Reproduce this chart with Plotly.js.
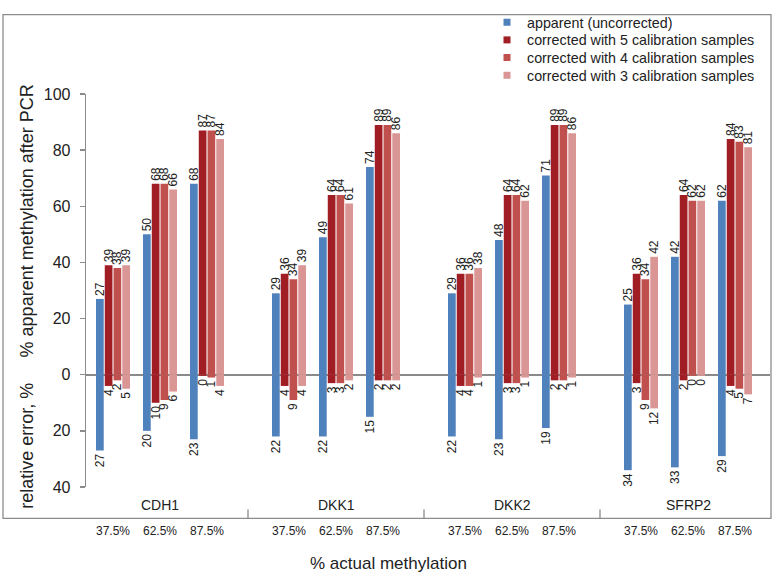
<!DOCTYPE html>
<html>
<head>
<meta charset="utf-8">
<script src="https://cdn.plot.ly/plotly-3.0.1.min.js"></script>
<style>html,body{margin:0;padding:0;background:#fff;}#chart{width:777px;height:577px;}</style>
</head>
<body>
<div id="chart"></div>
<script>
// ---- data ----
var genes = ['CDH1', 'DKK1', 'DKK2', 'SFRP2'];
var levels = ['37.5%', '62.5%', '87.5%'];
var seriesNames = ['apparent (uncorrected)', 'corrected with 5 calibration samples',
                   'corrected with 4 calibration samples', 'corrected with 3 calibration samples'];
// % apparent methylation after PCR (gene-major, level-minor)
var apparent = [27, 50, 68, 29, 49, 74, 29, 48, 71, 25, 42, 62];
var corr5    = [39, 68, 87, 36, 64, 89, 36, 64, 89, 36, 64, 84];
var corr4    = [38, 68, 87, 34, 64, 89, 36, 64, 89, 34, 62, 83];
var corr3    = [39, 66, 84, 39, 61, 86, 38, 62, 86, 42, 62, 81];
// relative error, % (drawn downward)
var errApparent = [27, 20, 23, 22, 22, 15, 22, 23, 19, 34, 33, 29];
var errCorr5    = [4, 10, 0.4, 4, 3, 2, 4, 3, 2, 3, 2, 4];
var errCorr4    = [2, 9, 1, 9, 3, 2, 4, 3, 2, 9, 0.4, 5];
var errCorr3    = [5, 6, 4, 4, 2, 2, 1, 1, 1, 12, 0.4, 7];
var yTickVals = [-40, -20, 0, 20, 40, 60, 80, 100];
var yTickText = ['40', '20', '0', '20', '40', '60', '80', '100'];

// ---- styling ----
var colors = ['#4F81BD', '#A01D24', '#C0504D', '#D99694'];
var FONT = 'Liberation Sans, Arial, sans-serif';
var GROUP = 176 / 47; // spacing between gene groups, in level units

var xPos = [];
var xLevelLabels = [];
genes.forEach(function (g, gi) {
  levels.forEach(function (l, li) { xPos.push(gi * GROUP + li); xLevelLabels.push(l); });
});

var posSeries = [apparent, corr5, corr4, corr3];
var negSeries = [errApparent, errCorr5, errCorr4, errCorr3];
var traces = [];
for (var s = 0; s < 4; s++) {
  traces.push({
    type: 'bar', x: xPos, y: posSeries[s], name: seriesNames[s],
    offsetgroup: String(s), showlegend: false,
    marker: {color: colors[s], line: {width: 0}},
    text: posSeries[s].map(function (v) { return String(Math.round(v)); }),
    texttemplate: '%{text}', textposition: 'outside', textangle: -90,
    constraintext: 'none', cliponaxis: false,
    textfont: {family: FONT, size: 12, color: '#222'}, hoverinfo: 'skip'
  });
  traces.push({
    type: 'bar', x: xPos, y: negSeries[s].map(function (v) { return -v; }), name: seriesNames[s],
    offsetgroup: String(s), showlegend: false,
    marker: {color: colors[s], line: {width: 0}},
    text: negSeries[s].map(function (v) { return String(Math.round(v)); }),
    texttemplate: '%{text}', textposition: 'outside', textangle: -90,
    constraintext: 'none', cliponaxis: false,
    textfont: {family: FONT, size: 12, color: '#222'}, hoverinfo: 'skip'
  });
}

var L = 86, R = 7, T = 86, B = 90, W = 777, H = 577;
var pw = W - L - R, ph = H - T - B;
function px2paperX(px) { return (px - L) / pw; }
function px2paperY(py) { return (H - B - py) / ph; }

// legend entries with small square keys, one legend per row for exact spacing
var legendRowsPx = [13, 31, 49, 67];
var legendNames = ['legend', 'legend2', 'legend3', 'legend4'];
var layoutLegends = {};
for (var k = 0; k < 4; k++) {
  traces.push({type: 'scatter', mode: 'markers', x: [null], y: [null], name: seriesNames[k],
    legend: legendNames[k],
    marker: {symbol: 'square', size: 7, color: colors[k]}, showlegend: true, hoverinfo: 'skip'});
  layoutLegends[legendNames[k]] = {x: px2paperX(487), y: px2paperY(legendRowsPx[k]),
    xanchor: 'left', yanchor: 'middle',
    font: {family: FONT, size: 14.3, color: '#222'}, bgcolor: 'rgba(0,0,0,0)', borderwidth: 0};
}

var xr0 = -27 / 47;
var annotations = [];
genes.forEach(function (g, gi) {
  annotations.push({x: gi * GROUP + 1, y: px2paperY(505), xref: 'x', yref: 'paper', text: g,
    showarrow: false, yanchor: 'middle', font: {family: FONT, size: 14, color: '#222'}});
});
xPos.forEach(function (xp, i) {
  annotations.push({x: xp, y: px2paperY(532), xref: 'x', yref: 'paper', text: xLevelLabels[i],
    showarrow: false, yanchor: 'middle', font: {family: FONT, size: 12, color: '#222'}});
});
annotations.push({x: px2paperX(388), y: px2paperY(565), xref: 'paper', yref: 'paper',
  text: '% actual methylation', showarrow: false, yanchor: 'middle',
  font: {family: FONT, size: 17, color: '#222'}});
annotations.push({x: px2paperX(27), y: px2paperY(216), xref: 'paper', yref: 'paper',
  text: '% apparent methylation after PCR', textangle: -90, showarrow: false,
  xanchor: 'center', yanchor: 'middle', font: {family: FONT, size: 18, color: '#222'}});
annotations.push({x: px2paperX(27), y: px2paperY(445), xref: 'paper', yref: 'paper',
  text: 'relative error, %', textangle: -90, showarrow: false,
  xanchor: 'center', yanchor: 'middle', font: {family: FONT, size: 18, color: '#222'}});

var shapes = [{type: 'rect', xref: 'paper', yref: 'paper',
  x0: px2paperX(3), x1: px2paperX(771), y0: px2paperY(519), y1: px2paperY(5),
  line: {color: '#8c8c8c', width: 1.3}, layer: 'below'}];
for (var gi = 1; gi < genes.length; gi++) {
  var xb = gi * GROUP - GROUP / 2 + 1;
  shapes.push({type: 'line', xref: 'x', yref: 'paper', x0: xb, x1: xb,
    y0: px2paperY(519), y1: px2paperY(510), line: {color: '#8c8c8c', width: 1.3}});
}

var layout = {
  width: W, height: H,
  margin: {l: L, r: R, t: T, b: B, pad: 0},
  paper_bgcolor: '#fff', plot_bgcolor: 'rgba(0,0,0,0)',
  barmode: 'group', bargap: 0.255, bargroupgap: 0.12,
  font: {family: FONT, color: '#222'},
  showlegend: true,
  xaxis: {range: [xr0, xr0 + pw / 47], showgrid: false, zeroline: false, showline: false,
    showticklabels: false, ticks: '', fixedrange: true},
  yaxis: {range: [-40, 100], tickvals: yTickVals, ticktext: yTickText,
    showgrid: false, zeroline: true, zerolinecolor: '#8a8a8a', zerolinewidth: 2,
    showline: true, linecolor: '#8c8c8c', linewidth: 1.3, ticks: 'outside', ticklen: 5,
    tickcolor: '#8c8c8c', tickwidth: 1.3, ticklabelstandoff: 6,
    tickfont: {family: FONT, size: 16, color: '#222'}, fixedrange: true},
  annotations: annotations,
  shapes: shapes
};
for (var key in layoutLegends) layout[key] = layoutLegends[key];

Plotly.newPlot('chart', traces, layout, {displayModeBar: false, staticPlot: true});
</script>
</body>
</html>
